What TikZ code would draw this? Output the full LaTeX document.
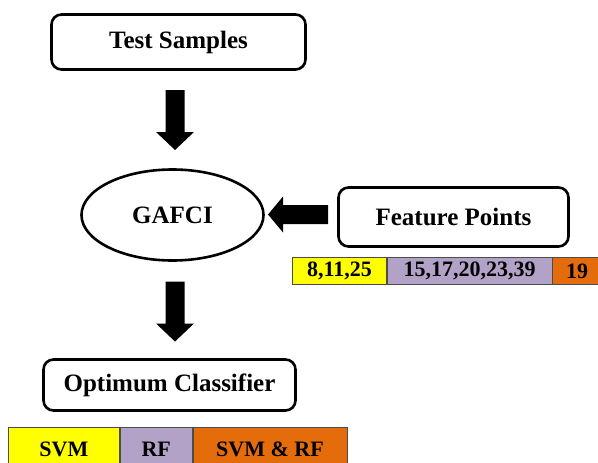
\documentclass[tikz,border=0pt]{standalone}
\usepackage{fontspec}
\setmainfont{Liberation Serif}
\usetikzlibrary{shapes.geometric,calc}

\definecolor{cellyellow}{HTML}{FFFF00}
\definecolor{celllilac}{HTML}{B3A2C7}
\definecolor{cellorange}{HTML}{E46C0A}

\tikzset{
  roundbox/.style={draw, line width=2.6pt, rounded corners=10pt, fill=white,
    font=\bfseries\fontsize{25}{30}\selectfont, inner sep=0pt},
  ovalbox/.style={ellipse, draw, line width=2.6pt, fill=white,
    font=\bfseries\fontsize{25}{30}\selectfont, inner sep=0pt},
  cell/.style={rectangle, draw=black!70, line width=0.8pt, anchor=north west,
    font=\bfseries\fontsize{22}{26}\selectfont, inner sep=0pt},
  % thick block arrows, centred on their placement point
  downblock/.pic={\fill[black] (-9.5,-30) -- (9.5,-30) -- (9.5,12) -- (19,12)
      -- (0,30) -- (-19,12) -- (-9.5,12) -- cycle;},
  leftblock/.pic={\fill[black] (30,-9.5) -- (-15,-9.5) -- (-15,-18) -- (-30,0)
      -- (-15,18) -- (-15,9.5) -- (30,9.5) -- cycle;}
}

\begin{document}
\begin{tikzpicture}[x=1pt, y=-1pt]
  \useasboundingbox (0,0) rectangle (598,463);
  \clip (0,0) rectangle (598,463);

  % main flow
  \node[roundbox, minimum width=254pt, minimum height=55pt] (ts) at (178.5,42) {Test Samples};
  \node[ovalbox, minimum width=182pt, minimum height=91pt] (gafci) at (172.5,215) {GAFCI};
  \node[roundbox, minimum width=230pt, minimum height=59pt] (fp) at (453.5,217) {Feature Points};
  \node[roundbox, minimum width=252pt, minimum height=51pt] (oc) at (169.5,385) {Optimum Classifier};

  % block arrows between the stages
  \pic at ($(ts.south)!0.5!(gafci.north)+(-0.5,0.5)$) {downblock};
  \pic at ($(gafci.east)!0.5!(fp.west)+(-3,-1.5)$) {leftblock};
  \pic at ($(gafci.south)!0.5!(oc.north)+(4,1.5)$) {downblock};

  % feature point groups
  \node[cell, fill=cellyellow, minimum width=94pt, minimum height=27pt] (f1) at (292,257) {8,11,25};
  \node[cell, fill=celllilac, minimum width=165pt, minimum height=27pt] (f2) at (f1.north east) {15,17,20,23,39};
  \node[cell, fill=cellorange, minimum width=48pt, minimum height=27pt, draw=none] (f3) at (f2.north east) {19};
  \draw[black!70, line width=0.8pt] (f3.north west) -- (f3.north east) (f3.south west) -- (f3.south east);

  % classifier groups
  \node[cell, fill=cellyellow, minimum width=111pt, minimum height=44pt] (c1) at (8,427) {SVM};
  \node[cell, fill=celllilac, minimum width=72pt, minimum height=44pt] (c2) at (c1.north east) {RF};
  \node[cell, fill=cellorange, minimum width=154pt, minimum height=44pt] (c3) at (c2.north east) {SVM \& RF};
\end{tikzpicture}
\end{document}
